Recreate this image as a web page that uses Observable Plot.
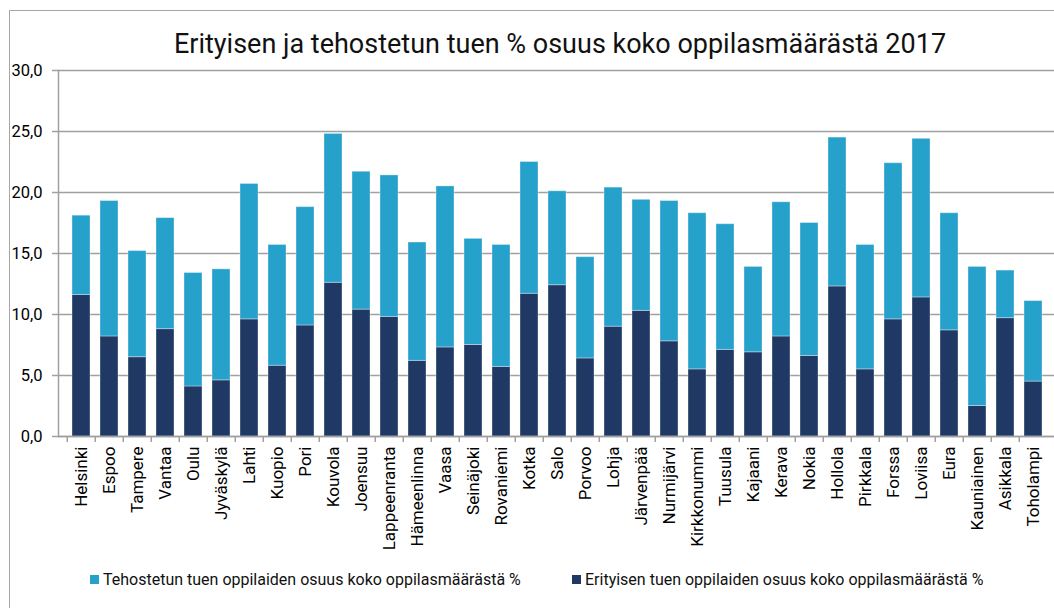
<!DOCTYPE html>
<html>
<head>
<meta charset="utf-8">
<script src="https://cdn.jsdelivr.net/npm/d3@7"></script>
<script src="https://cdn.jsdelivr.net/npm/@observablehq/plot@0.6"></script>
<style>
  html, body { margin: 0; padding: 0; background: #fff; overflow: hidden; }
  #wrap { position: relative; width: 1054px; height: 608px; overflow: hidden; font-family: Roboto, "Liberation Sans", sans-serif; }
  #frame { position: absolute; left: 9px; top: 10px; width: 1200px; height: 800px; border: 1.5px solid #a6a6a6; box-sizing: border-box; }
  #title { position: absolute; left: 0; top: 28px; width: 1120px; text-align: center; font-size: 27px; color: #111; white-space: nowrap; }
  #chart { position: absolute; left: 0; top: 0; width: 1058px; }
  #chart svg { max-width: none !important; }
  #chart svg g[aria-label="x-axis tick label"] { font-size: 17px; fill: #000; }
  #chart svg g[aria-label="y-axis tick label"] { font-size: 16.5px; fill: #000; }
  .leg { position: absolute; top: 570px; font-size: 16px; color: #111; white-space: nowrap; }
  .sw { display: inline-block; width: 9px; height: 9px; margin-right: 4px; vertical-align: 1px; }
</style>
</head>
<body>
<div id="wrap">
  <div id="frame"></div>
  <div id="chart"></div>
  <div id="title">Erityisen ja tehostetun tuen % osuus koko oppilasmäärästä 2017</div>
  <div class="leg" id="leg1"></div>
  <div class="leg" id="leg2"></div>
</div>
<script>
const categories = ["Helsinki","Espoo","Tampere","Vantaa","Oulu","Jyväskylä","Lahti","Kuopio","Pori","Kouvola","Joensuu","Lappeenranta","Hämeenlinna","Vaasa","Seinäjoki","Rovaniemi","Kotka","Salo","Porvoo","Lohja","Järvenpää","Nurmijärvi","Kirkkonummi","Tuusula","Kajaani","Kerava","Nokia","Hollola","Pirkkala","Forssa","Loviisa","Eura","Kauniainen","Asikkala","Toholampi"];
// Erityisen tuen oppilaiden osuus (%)
const erityinen = [11.6,8.2,6.5,8.8,4.1,4.6,9.6,5.8,9.1,12.6,10.4,9.8,6.2,7.3,7.5,5.7,11.7,12.4,6.4,9.0,10.3,7.8,5.5,7.1,6.9,8.2,6.6,12.3,5.5,9.6,11.4,8.7,2.5,9.7,4.5];
// Yhteensä (erityinen + tehostettu) (%)
const yhteensa = [18.1,19.3,15.2,17.9,13.4,13.7,20.7,15.7,18.8,24.8,21.7,21.4,15.9,20.5,16.2,15.7,22.5,20.1,14.7,20.4,19.4,19.3,18.3,17.4,13.9,19.2,17.5,24.5,15.7,22.4,24.4,18.3,13.9,13.6,11.1];
const series = ["Tehostetun tuen oppilaiden osuus koko oppilasmäärästä %", "Erityisen tuen oppilaiden osuus koko oppilasmäärästä %"];
const colors = ["#25a1cb", "#203864"];
const yTicks = [0, 5, 10, 15, 20, 25, 30];

const rows = [];
categories.forEach((c, i) => {
  rows.push({kunta: c, sarja: series[1], arvo: erityinen[i]});
  rows.push({kunta: c, sarja: series[0], arvo: +(yhteensa[i] - erityinen[i]).toFixed(1)});
});

const W = 1058, ML = 58, MR = 2;
const step = (W - ML - MR) / categories.length;
const fmt = d => d3.format(".1f")(d).replace(".", ",");

const plot = Plot.plot({
  width: W,
  height: 608,
  marginLeft: ML,
  marginRight: MR,
  marginTop: 70,
  marginBottom: 172,
  style: {fontFamily: "Roboto, 'Liberation Sans', sans-serif", color: "#111", background: "transparent", maxWidth: "none", fontSize: "16px"},
  x: {domain: categories, padding: 0.36, label: null},
  y: {domain: [0, 30], label: null},
  color: {domain: series, range: colors},
  marks: [
    Plot.gridY(yTicks, {stroke: "#a0a0a0", strokeOpacity: 1, strokeWidth: 1.5}),
    Plot.barY(rows, {x: "kunta", y: "arvo", fill: "sarja", order: [series[1], series[0]], stroke: "#ffffff", strokeOpacity: 0.35, strokeWidth: 1}),
    Plot.ruleY([0], {stroke: "#a0a0a0", strokeWidth: 1.5}),
    Plot.ruleX(categories, {x: d => d, y1: 0, y2: 0, dx: -step / 2, insetBottom: -6, stroke: "#a0a0a0", strokeWidth: 1.5}),
    Plot.axisY(yTicks, {tickSize: 6, tickPadding: 10, tickFormat: fmt, fontSize: 16.5, stroke: "#a0a0a0", strokeWidth: 1.5, label: null}),
    Plot.axisX({tickSize: 0, tickPadding: 10, tickRotate: -90, fontSize: 17, label: null}),
    Plot.frame({anchor: "left", stroke: "#a0a0a0", strokeWidth: 1.5, strokeOpacity: 1})
  ]
});
document.getElementById("chart").appendChild(plot);

const l1 = document.getElementById("leg1");
l1.style.left = "90px";
l1.innerHTML = `<span class="sw" style="background:${colors[0]}"></span>${series[0]}`;
const l2 = document.getElementById("leg2");
l2.style.left = "572px";
l2.innerHTML = `<span class="sw" style="background:${colors[1]}"></span>${series[1]}`;
</script>
</body>
</html>
